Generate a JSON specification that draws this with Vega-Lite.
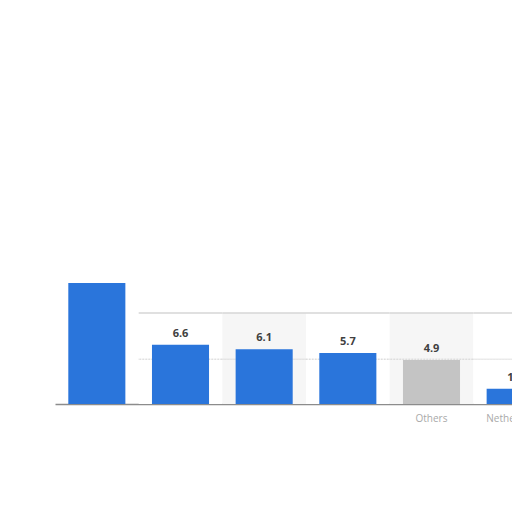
{
  "$schema": "https://vega.github.io/schema/vega-lite/v6.json",
  "description": "Share by country (cropped bar chart)",
  "autosize": {"type": "none"},
  "padding": {"left": 55, "top": 283, "right": 0, "bottom": 108},
  "width": 502,
  "height": 121,
  "background": "white",
  "config": {
    "view": {"stroke": null},
    "font": "Open Sans"
  },
  "data": {
    "values": [
      {"country": "United States", "share": 13.5},
      {"country": "Germany", "share": 6.6},
      {"country": "United Kingdom", "share": 6.1},
      {"country": "France", "share": 5.7},
      {"country": "Others", "share": 4.9},
      {"country": "Netherlands", "share": 1.7}
    ]
  },
  "encoding": {
    "x": {
      "field": "country",
      "type": "nominal",
      "sort": ["United States", "Germany", "United Kingdom", "France", "Others", "Netherlands"],
      "scale": {"paddingInner": 0.318, "paddingOuter": 0.159},
      "axis": {
        "title": null,
        "ticks": false,
        "labelAngle": 0,
        "labelFontSize": 10,
        "labelColor": "#a9a9a9",
        "labelPadding": 9,
        "domainColor": "#8c8c8c",
        "domainWidth": 1.5,
        "labelExpr": "indexof(['Others', 'Netherlands'], datum.label) >= 0 ? datum.label : ''"
      }
    }
  },
  "layer": [
    {
      "transform": [{"filter": "datum.country != 'United States'"}],
      "mark": {"type": "bar", "width": {"band": 1.466}},
      "encoding": {
        "y": {"datum": 10.15, "type": "quantitative", "scale": {"domain": [0, 13.5], "nice": false}, "axis": null},
        "y2": {"datum": 0},
        "fill": {
          "condition": {"test": "indexof(['United Kingdom', 'Others'], datum.country) >= 0", "value": "#f6f6f6"},
          "value": "#ffffff"
        }
      }
    },
    {
      "transform": [{"filter": "datum.country != 'United States'"}],
      "mark": {"type": "bar", "width": {"band": 1.466}, "fill": null, "stroke": "#d6d6d6", "strokeWidth": 1.5},
      "encoding": {
        "y": {"datum": 10.15, "type": "quantitative"},
        "y2": {"datum": 10.15}
      }
    },
    {
      "transform": [{"filter": "datum.country != 'United States'"}],
      "mark": {"type": "bar", "width": {"band": 1.466}, "fill": null, "stroke": "#cfcfcf", "strokeWidth": 1, "strokeDash": [1, 2]},
      "encoding": {
        "y": {"datum": 5, "type": "quantitative"},
        "y2": {"datum": 5}
      }
    },
    {
      "mark": {"type": "bar", "width": {"band": 1}},
      "encoding": {
        "y": {"field": "share", "type": "quantitative", "scale": {"domain": [0, 13.5], "nice": false}},
        "color": {
          "condition": {"test": "datum.country == 'Others'", "value": "#c4c4c4"},
          "value": "#2a75db"
        }
      }
    },
    {
      "transform": [{"filter": "datum.country != 'United States'"}],
      "mark": {"type": "text", "baseline": "bottom", "dy": -6, "fontSize": 11, "fontWeight": "bold", "color": "#404040"},
      "encoding": {
        "y": {"field": "share", "type": "quantitative"},
        "text": {"field": "share", "type": "quantitative", "format": ".1f"}
      }
    }
  ]
}
